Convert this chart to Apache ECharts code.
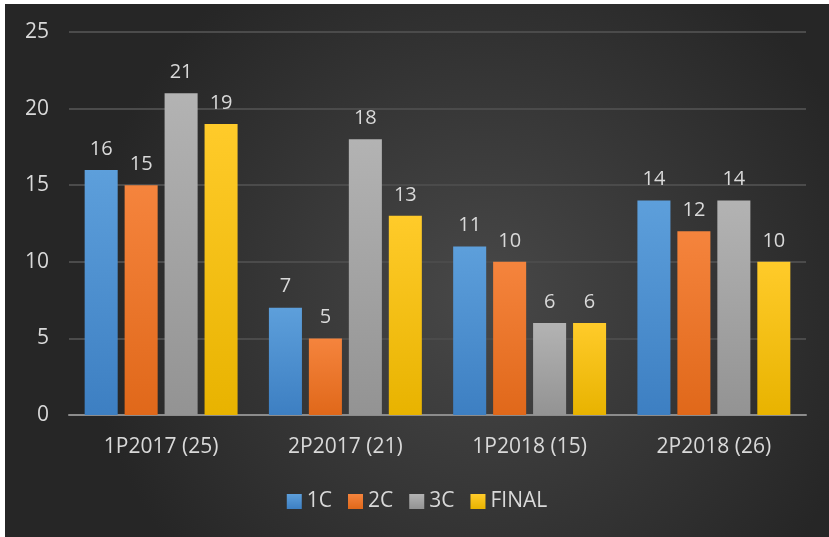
<!DOCTYPE html>
<html>
<head>
<meta charset="utf-8">
<script src="https://cdn.jsdelivr.net/npm/echarts@6/dist/echarts.min.js"></script>
<style>
  html, body { margin: 0; padding: 0; background: #fff; }
  #chart { position: absolute; left: 5px; top: 4px; width: 824px; height: 533px; }
</style>
</head>
<body>
<div id="chart"></div>
<script>
var categories = ['1P2017 (25)', '2P2017 (21)', '1P2018 (15)', '2P2018 (26)'];
var seriesNames = ['1C', '2C', '3C', 'FINAL'];
var c1 = [16, 7, 11, 14];
var c2 = [15, 5, 10, 12];
var c3 = [21, 18, 6, 14];
var cFinal = [19, 13, 6, 10];
var yTicks = [0, 5, 10, 15, 20, 25];

var values = [c1, c2, c3, cFinal];
var colors = [
  ['#5d9fdb', '#3d7fc2'],
  ['#f5843d', '#e0681a'],
  ['#b3b3b3', '#939393'],
  ['#ffcb2a', '#e8b300']
];

function grad(top, bottom) {
  return new echarts.graphic.LinearGradient(0, 0, 0, 1, [
    { offset: 0, color: top },
    { offset: 1, color: bottom }
  ]);
}

var myChart = echarts.init(document.getElementById('chart'));

var series = [];
for (var i = 0; i < seriesNames.length; i++) {
  series.push({
    name: seriesNames[i],
    type: 'bar',
    data: values[i],
    barGap: '21%',
    barCategoryGap: '17%',
    itemStyle: { color: grad(colors[i][0], colors[i][1]) },
    label: {
      show: true,
      position: 'top',
      distance: 11,
      color: '#d9d9d9',
      fontSize: 20,
      fontFamily: 'Open Sans'
    }
  });
}

var option = {
  backgroundColor: {
    type: 'radial', x: 0.58, y: 0.55, r: 0.75,
    colorStops: [
      { offset: 0, color: '#484848' },
      { offset: 1, color: '#262626' }
    ]
  },
  color: colors.map(function (c) { return c[0]; }),
  textStyle: { fontFamily: 'Open Sans' },
  legend: {
    data: seriesNames,
    bottom: 20,
    left: 'center',
    itemWidth: 15,
    itemHeight: 15,
    itemGap: 16,
    icon: 'rect',
    textStyle: { color: '#d9d9d9', fontSize: 21, fontFamily: 'Open Sans' }
  },
  grid: { left: 64, right: 23, top: 28, bottom: 122 },
  xAxis: {
    type: 'category',
    data: categories,
    axisTick: { show: false },
    axisLine: { lineStyle: { color: '#8c8c8c', width: 2 } },
    axisLabel: { color: '#d9d9d9', fontSize: 21, margin: 22, fontFamily: 'Open Sans' }
  },
  yAxis: {
    type: 'value',
    min: yTicks[0],
    max: yTicks[yTicks.length - 1],
    interval: 5,
    axisLine: { show: false },
    axisTick: { show: false },
    splitLine: { lineStyle: { color: '#4b4b4b', width: 2 } },
    axisLabel: { color: '#d9d9d9', fontSize: 21, margin: 20, fontFamily: 'Open Sans' }
  },
  series: series
};

myChart.setOption(option);
</script>
</body>
</html>
